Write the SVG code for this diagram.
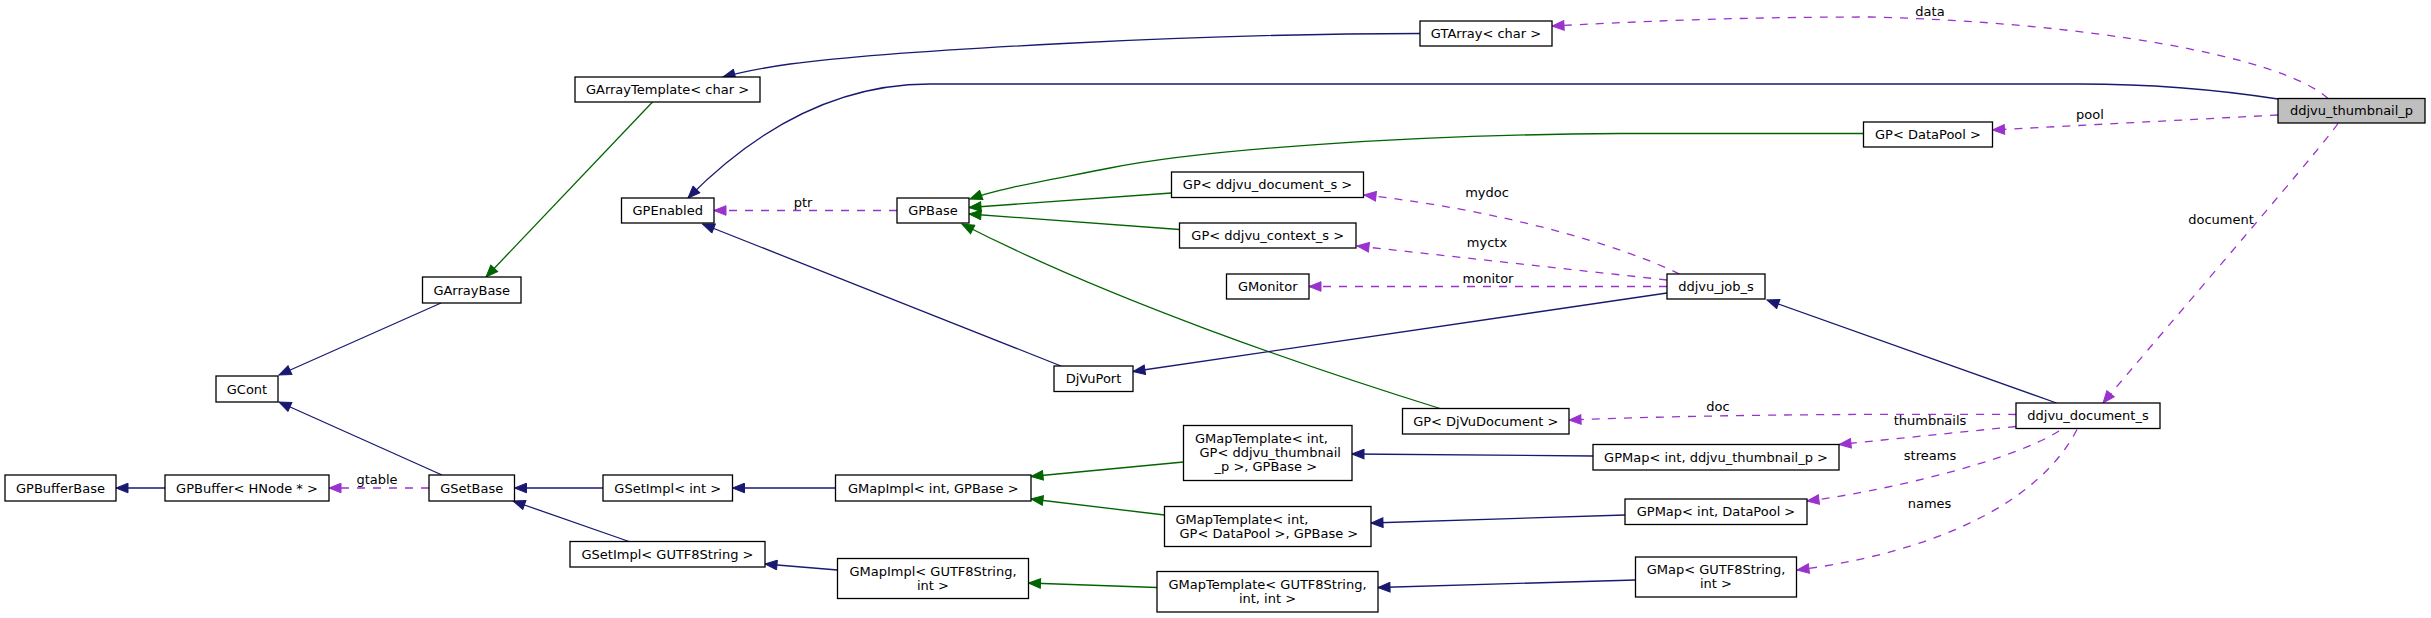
<svg xmlns="http://www.w3.org/2000/svg" width="2431" height="618" viewBox="0 0 2431 618">
<style>
.node rect{fill:#fff;stroke:#000;stroke-width:1.3}
.root rect{fill:#bfbfbf}
text{font-family:"DejaVu Sans","Liberation Sans",sans-serif;font-size:13px;fill:#000}
.node text{text-anchor:middle}
.node text.l{text-anchor:start}
.e{fill:none;stroke-width:1.3}
.b{stroke:#191970;marker-end:url(#ab)}
.g{stroke:#006400;marker-end:url(#ag)}
.p{stroke:#9a32cd;stroke-dasharray:8,8;marker-end:url(#ap)}
.lbl{text-anchor:middle}
</style>
<defs>
<marker id="ab" markerUnits="userSpaceOnUse" markerWidth="14" markerHeight="11" viewBox="0 0 14 11" refX="13" refY="5.5" orient="auto"><path d="M1,0.7 L13,5.5 L1,10.3 z" fill="#191970" stroke="#191970" stroke-width="1"/></marker>
<marker id="ag" markerUnits="userSpaceOnUse" markerWidth="14" markerHeight="11" viewBox="0 0 14 11" refX="13" refY="5.5" orient="auto"><path d="M1,0.7 L13,5.5 L1,10.3 z" fill="#006400" stroke="#006400" stroke-width="1"/></marker>
<marker id="ap" markerUnits="userSpaceOnUse" markerWidth="14" markerHeight="11" viewBox="0 0 14 11" refX="13" refY="5.5" orient="auto"><path d="M1,0.7 L13,5.5 L1,10.3 z" fill="#9a32cd" stroke="#9a32cd" stroke-width="1"/></marker>
</defs>
<rect width="2431" height="618" fill="#fff"/>
<g id="edges">
<path class="e b" d="M1420,33.5 C1200,33.5 900,50 790,64 C765,67.5 742,72 723,77"/>
<path class="e b" d="M2278,99 C2200,87 2140,84 2080,84 L930,84 C840,84 760,125 688,198"/>
<path class="e g" d="M652.5,102 L486,277"/>
<path class="e b" d="M441,303 L279,375"/>
<path class="e b" d="M442,475 L279,402"/>
<path class="e b" d="M165,488 L116,488"/>
<path class="e p" d="M429,488 L329,488"/>
<text class="lbl" x="377" y="484">gtable</text>
<path class="e b" d="M603,488 L514.5,488"/>
<path class="e b" d="M629,541.5 L513,501"/>
<path class="e b" d="M835.5,488 L732.5,488"/>
<path class="e b" d="M837.5,570 L765,564"/>
<path class="e g" d="M1183.5,462 L1031,476.5"/>
<path class="e g" d="M1164.5,515 L1031,499"/>
<path class="e g" d="M1157,587.5 L1028.5,583"/>
<path class="e b" d="M1593,456 L1352,454"/>
<path class="e b" d="M1625,515 L1371,523"/>
<path class="e b" d="M1635.5,580 L1378,587.5"/>
<path class="e g" d="M1863.5,133.5 L1620,133.5 C1400,135 1200,150 1110,168 C1050,180 1000,188 970,199"/>
<path class="e g" d="M1171.5,193 L969,207.5"/>
<path class="e g" d="M1179.5,229.5 L969,214"/>
<path class="e g" d="M1440,408.5 C1310,368 1110,300 962,224"/>
<path class="e p" d="M897,210.5 L714,210.5"/>
<text class="lbl" x="803" y="207">ptr</text>
<path class="e b" d="M1061,366 L702.5,224"/>
<path class="e b" d="M1667,293 L1133,371.5"/>
<path class="e b" d="M2056.5,403 L1767,300"/>
<path class="e p" d="M1679.5,274 C1620,245 1500,210 1364,195"/>
<text class="lbl" x="1487" y="197">mydoc</text>
<path class="e p" d="M1667,280 L1357,246"/>
<text class="lbl" x="1487" y="247">myctx</text>
<path class="e p" d="M1667,286.5 L1309,286.5"/>
<text class="lbl" x="1488" y="283">monitor</text>
<path class="e p" d="M2328,98.5 C2280,55 2080,22 1870,17 C1730,17 1630,22 1552,26"/>
<text class="lbl" x="1930" y="16">data</text>
<path class="e p" d="M2278,115 L1992.5,130"/>
<text class="lbl" x="2090" y="118.5">pool</text>
<path class="e p" d="M2338,123.5 C2320,150 2130,370 2103,403"/>
<text class="lbl" x="2221" y="224">document</text>
<path class="e p" d="M2016,414.5 C1900,414 1720,414 1569,420"/>
<text class="lbl" x="1718" y="411">doc</text>
<path class="e p" d="M2016,426.5 L1839,444.5"/>
<text class="lbl" x="1930" y="425">thumbnails</text>
<path class="e p" d="M2059,431 C2010,462 1880,492 1807,501"/>
<text class="lbl" x="1930" y="459.5">streams</text>
<path class="e p" d="M2077,429.5 C2030,520 1895,558 1797,570"/>
<text class="lbl" x="1929.5" y="508">names</text>
</g>
<g id="n_thumb" class="node root"><rect x="2278" y="98.5" width="147" height="24.5"/><text x="2351.5" y="115">ddjvu_thumbnail_p</text></g>
<g id="n_gtarray" class="node"><rect x="1420" y="21" width="132" height="25"/><text x="1486" y="38">GTArray&lt; char &gt;</text></g>
<g id="n_garraytpl" class="node"><rect x="575" y="77" width="185" height="25"/><text x="667.5" y="94">GArrayTemplate&lt; char &gt;</text></g>
<g id="n_gpenabled" class="node"><rect x="621.5" y="198" width="92.5" height="25"/><text x="667.75" y="215">GPEnabled</text></g>
<g id="n_gpbase" class="node"><rect x="897" y="198" width="72" height="25"/><text x="933" y="215">GPBase</text></g>
<g id="n_gp_docs" class="node"><rect x="1171.5" y="172" width="192" height="25.5"/><text x="1267.5" y="189">GP&lt; ddjvu_document_s &gt;</text></g>
<g id="n_gp_ctx" class="node"><rect x="1179.5" y="223" width="176.5" height="25"/><text x="1267.75" y="240">GP&lt; ddjvu_context_s &gt;</text></g>
<g id="n_gmonitor" class="node"><rect x="1226.5" y="274" width="82.5" height="25"/><text x="1267.75" y="291">GMonitor</text></g>
<g id="n_gp_datapool" class="node"><rect x="1863.5" y="122" width="129" height="25"/><text x="1928" y="139">GP&lt; DataPool &gt;</text></g>
<g id="n_job" class="node"><rect x="1667" y="274" width="98" height="25"/><text x="1716" y="291">ddjvu_job_s</text></g>
<g id="n_garraybase" class="node"><rect x="422.5" y="277" width="98.5" height="26"/><text x="471.75" y="294.5">GArrayBase</text></g>
<g id="n_gcont" class="node"><rect x="216" y="376" width="62" height="26"/><text x="247" y="393.5">GCont</text></g>
<g id="n_gpbufferbase" class="node"><rect x="5" y="475" width="111" height="26"/><text x="60.5" y="492.5">GPBufferBase</text></g>
<g id="n_gpbuffer" class="node"><rect x="165" y="475" width="164" height="26"/><text x="247" y="492.5">GPBuffer&lt; HNode * &gt;</text></g>
<g id="n_gsetbase" class="node"><rect x="429" y="475" width="85.5" height="26"/><text x="471.75" y="492.5">GSetBase</text></g>
<g id="n_gsetimpl_int" class="node"><rect x="603" y="475" width="129.5" height="26"/><text x="667.75" y="492.5">GSetImpl&lt; int &gt;</text></g>
<g id="n_gsetimpl_str" class="node"><rect x="570" y="541.5" width="195" height="25.5"/><text x="667.5" y="558.5">GSetImpl&lt; GUTF8String &gt;</text></g>
<g id="n_djvuport" class="node"><rect x="1054" y="366" width="79" height="25.5"/><text x="1093.5" y="383">DjVuPort</text></g>
<g id="n_gp_djvudoc" class="node"><rect x="1402.5" y="408.5" width="166.5" height="25.5"/><text x="1485.75" y="425.5">GP&lt; DjVuDocument &gt;</text></g>
<g id="n_gmaptpl_thumb" class="node"><rect x="1183.5" y="425.5" width="168.5" height="55"/><text class="l" x="1195" y="443">GMapTemplate&lt; int,</text><text class="l" x="1199.5" y="457">GP&lt; ddjvu_thumbnail</text><text class="l" x="1214.5" y="471">_p &gt;, GPBase &gt;</text></g>
<g id="n_gmapimpl_int" class="node"><rect x="835.5" y="475" width="195.5" height="26"/><text x="933.25" y="492.5">GMapImpl&lt; int, GPBase &gt;</text></g>
<g id="n_gmaptpl_dp" class="node"><rect x="1164.5" y="506.5" width="206.5" height="40"/><text class="l" x="1175.5" y="523.5">GMapTemplate&lt; int,</text><text class="l" x="1179.5" y="537.5">GP&lt; DataPool &gt;, GPBase &gt;</text></g>
<g id="n_gmapimpl_str" class="node"><rect x="837.5" y="558.5" width="191" height="40"/><text x="933" y="575.5">GMapImpl&lt; GUTF8String,</text><text x="933" y="589.5">int &gt;</text></g>
<g id="n_gmaptpl_str" class="node"><rect x="1157" y="571.5" width="221" height="40.5"/><text x="1267.5" y="588.5">GMapTemplate&lt; GUTF8String,</text><text x="1267.5" y="602.5">int, int &gt;</text></g>
<g id="n_doc" class="node"><rect x="2016" y="403" width="144" height="25.5"/><text x="2088" y="420">ddjvu_document_s</text></g>
<g id="n_gpmap_thumb" class="node"><rect x="1593" y="444.5" width="246" height="25.5"/><text x="1716" y="461.5">GPMap&lt; int, ddjvu_thumbnail_p &gt;</text></g>
<g id="n_gpmap_dp" class="node"><rect x="1625" y="499" width="182" height="25.5"/><text x="1716" y="516">GPMap&lt; int, DataPool &gt;</text></g>
<g id="n_gmap_str" class="node"><rect x="1635.5" y="557" width="161" height="40"/><text x="1716" y="574">GMap&lt; GUTF8String,</text><text x="1716" y="588">int &gt;</text></g>
</svg>
